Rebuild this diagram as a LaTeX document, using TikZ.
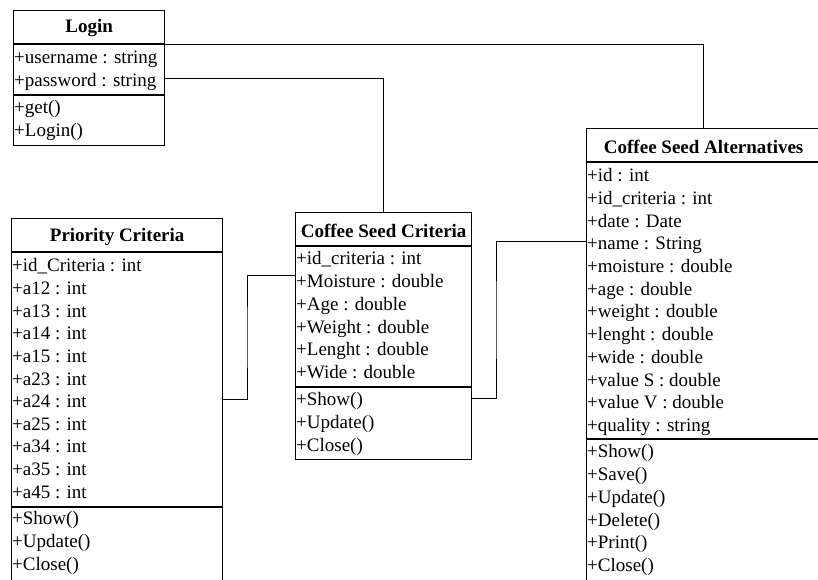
\documentclass[tikz,border=0pt]{standalone}
\usepackage{fontspec}
\setmainfont{Liberation Serif}
\usetikzlibrary{calc}
\tikzset{
  classbox/.style={draw, line width=1.3pt, inner sep=0pt, anchor=north west},
  sep/.style={line width=1.3pt},
  ttl/.style={font=\fontsize{19}{22}\selectfont\bfseries, inner sep=0pt},
  row/.style={font=\fontsize{19}{22}\selectfont, inner sep=0pt, anchor=west,
              text height=12.5pt, text depth=4pt},
  link/.style={draw, line width=1pt},
}
\begin{document}
\begin{tikzpicture}[x=1pt,y=-1pt]
\useasboundingbox (0,0) rectangle (818,579);
\clip (0,0) rectangle (818,579);

% ---- Login ----
\node[classbox, minimum width=151pt, minimum height=135pt] (login) at (13,10) {};
\node[ttl] (login-t) at ($(login.north)+(0,18.5)$) {Login};
\draw[sep] ($(login.north west)+(0,34)$) -- ($(login.north east)+(0,34)$);
\draw[sep] ($(login.north west)+(0,85)$) -- ($(login.north east)+(0,85)$);
\foreach \t [count=\i from 0] in {+username : string, +password : string}
  \node[row] (login-a\i) at ($(login.north west)+(1,49.5+\i*22.5)$) {\t};
\foreach \t [count=\i from 0] in {+get(), +Login()}
  \node[row] (login-m\i) at ($(login.north west)+(1,99.5+\i*22.5)$) {\t};

% ---- Priority Criteria ----
\node[classbox, minimum width=211pt, minimum height=400pt] (pri) at (11,218) {};
\node[ttl] (pri-t) at ($(pri.north)+(0,18.5)$) {Priority Criteria};
\draw[sep] ($(pri.north west)+(0,34)$) -- ($(pri.north east)+(0,34)$);
\draw[sep] ($(pri.north west)+(0,289)$) -- ($(pri.north east)+(0,289)$);
\foreach \t [count=\i from 0] in {+id\_Criteria : int, +a12 : int, +a13 : int, +a14 : int,
    +a15 : int, +a23 : int, +a24 : int, +a25 : int, +a34 : int, +a35 : int, +a45 : int}
  \node[row] (pri-a\i) at ($(pri.north west)+(1,49.5+\i*22.65)$) {\t};
\foreach \t [count=\i from 0] in {+Show(), +Update(), +Close()}
  \node[row] (pri-m\i) at ($(pri.north west)+(1,302.5+\i*22.7)$) {\t};

% ---- Coffee Seed Criteria ----
\node[classbox, minimum width=176pt, minimum height=247pt] (crit) at (295,212) {};
\node[ttl] (crit-t) at ($(crit.north)+(0,18.5)$) {Coffee Seed Criteria};
\draw[sep] ($(crit.north west)+(0,34)$) -- ($(crit.north east)+(0,34)$);
\draw[sep] ($(crit.north west)+(0,175)$) -- ($(crit.north east)+(0,175)$);
\foreach \t [count=\i from 0] in {+id\_criteria : int, +Moisture : double, +Age : double,
    +Weight : double, +Lenght : double, +Wide : double}
  \node[row] (crit-a\i) at ($(crit.north west)+(1,48.5+\i*22.8)$) {\t};
\foreach \t [count=\i from 0] in {+Show(), +Update(), +Close()}
  \node[row] (crit-m\i) at ($(crit.north west)+(1,189.5+\i*22.7)$) {\t};

% ---- Coffee Seed Alternatives ----
\node[classbox, minimum width=234pt, minimum height=480pt] (alt) at (586,128) {};
\node[ttl] (alt-t) at ($(alt.north)+(0,18.5)$) {Coffee Seed Alternatives};
\draw[sep] ($(alt.north west)+(0,34)$) -- ($(alt.north east)+(0,34)$);
\draw[sep] ($(alt.north west)+(0,311)$) -- ($(alt.north east)+(0,311)$);
\foreach \t [count=\i from 0] in {+id : int, +id\_criteria : int, +date : Date, +name : String,
    +moisture : double, +age : double, +weight : double, +lenght : double, +wide : double,
    +value S : double, +value V : double, +quality : string}
  \node[row] (alt-a\i) at ($(alt.north west)+(1,49.5+\i*22.7)$) {\t};
\foreach \t [count=\i from 0] in {+Show(), +Save(), +Update(), +Delete(), +Print(), +Close()}
  \node[row] (alt-m\i) at ($(alt.north west)+(1,325.5+\i*22.8)$) {\t};

% ---- associations ----
\coordinate (bendA) at (247,337);
\coordinate (bendB) at (496,320);
\draw[link] ($(login.north east)+(0,34)$) -| (alt.north);
\draw[link] ($(login.north east)+(0,68)$) -| (crit.north);
\draw[link] ($(pri.north east)+(0,181)$) -| (bendA) |- ($(crit.north west)+(0,63)$);
\draw[link] ($(crit.north east)+(0,186)$) -| (bendB) |- ($(alt.north west)+(0,113)$);
\end{tikzpicture}
\end{document}
